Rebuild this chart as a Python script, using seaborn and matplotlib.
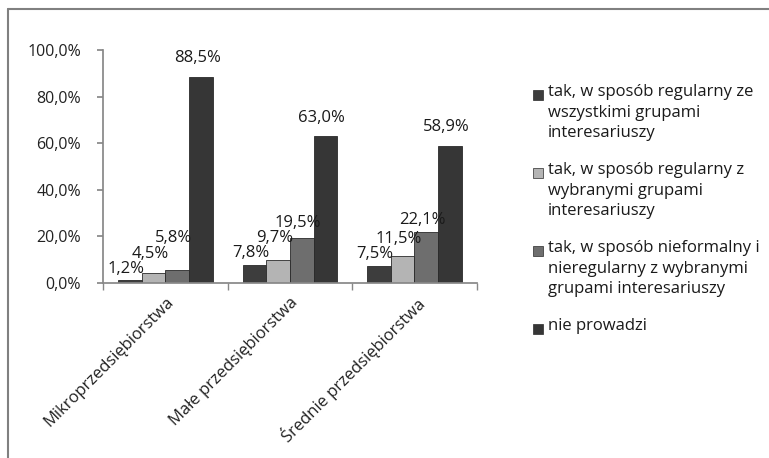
import numpy as np
import pandas as pd
import matplotlib.pyplot as plt
import seaborn as sns
from matplotlib.patches import Rectangle
from matplotlib.lines import Line2D

# Data
categories = ['Mikroprzedsiębiorstwa', 'Małe przedsiębiorstwa', 'Średnie przedsiębiorstwa']
series = ['tak, w sposób regularny ze\nwszystkimi grupami\ninteresariuszy',
          'tak, w sposób regularny z\nwybranymi grupami\ninteresariuszy',
          'tak, w sposób nieformalny i\nnieregularny z wybranymi\ngrupami interesariuszy',
          'nie prowadzi']
s1 = [1.2, 7.8, 7.5]
s2 = [4.5, 9.7, 11.5]
s3 = [5.8, 19.5, 22.1]
s4 = [88.5, 63.0, 58.9]
colors = ['#3d3d3d', '#b4b4b4', '#6e6e6e', '#363636']

rows = []
for s, vals in zip(series, [s1, s2, s3, s4]):
    for c, v in zip(categories, vals):
        rows.append({'cat': c, 'series': s, 'value': v})
df = pd.DataFrame(rows)

sns.set_theme(style='white')
plt.rcParams['font.family'] = ['Open Sans', 'DejaVu Sans']

fig = plt.figure(figsize=(7.69, 4.58), dpi=100)
ax = fig.add_axes([0.134, 0.382, 0.486, 0.509])

sns.barplot(data=df, x='cat', y='value', hue='series', palette=colors,
            width=0.76, ax=ax, legend=False, edgecolor='#2a2a2a', linewidth=0.6)

def fmt(v):
    return f'{v:.1f}%'.replace('.', ',')

# value labels, staggered so small neighbouring values don't collide
lab_h = 6.5  # label height in data units
for gi in range(len(categories)):
    prev_top = -10
    for si, cont in enumerate(ax.containers):
        bar = cont.patches[gi]
        v = cont.datavalues[gi]
        if si < 3:
            y = max(bar.get_height() + 1.5, prev_top)
            prev_top = y + lab_h
        else:
            y = bar.get_height() + 4.5
        ax.text(bar.get_x() + bar.get_width() / 2 - 0.03, y, fmt(v),
                ha='center', va='bottom', fontsize=12, color='#1a1a1a')

ax.set_ylim(0, 100)
ax.set_xlim(-0.5, 2.5)
yt = np.arange(0, 101, 20)
ax.set_yticks(yt)
ax.set_yticklabels([fmt(t) for t in yt], fontsize=11.5)
ax.set_xticks([0, 1, 2])
ax.set_xticklabels(categories, rotation=45, ha='right', rotation_mode='anchor', fontsize=12)
ax.set_xticks([-0.5, 0.5, 1.5, 2.5], minor=True)
ax.set_xlabel('')
ax.set_ylabel('')
for sp in ['top', 'right']:
    ax.spines[sp].set_visible(False)
ax.spines['left'].set_color('#888888')
ax.spines['bottom'].set_color('#888888')
ax.tick_params(axis='y', colors='#222222', length=4, color='#888888', left=True, pad=12)
ax.tick_params(axis='x', which='major', colors='#222222', length=0, pad=8)
ax.tick_params(axis='x', which='minor', length=5, color='#888888', bottom=True)

# legend drawn by hand so the swatch sits on the first line of each entry
leg_x = 548 / 769
first_lines = [95, 173, 251, 329]
for lab, c, yp in zip(series, colors, first_lines):
    yf = 1 - yp / 458
    fig.text(leg_x, yf + 11 / 458, lab, ha='left', va='top', fontsize=12,
             color='#1a1a1a', linespacing=1.38)
    fig.add_artist(Rectangle((533 / 769, yf - 5 / 458), 10 / 769, 10 / 458,
                             facecolor=c, edgecolor='#2a2a2a', lw=0.5,
                             transform=fig.transFigure))

# frame lines of the original chart area
fig.add_artist(Line2D([0.011, 0.011], [0, 0.98], color='#808080', lw=1.5))
fig.add_artist(Line2D([0.011, 1.0], [0.98, 0.98], color='#808080', lw=1.5))

fig.savefig('out.png', dpi=100)
